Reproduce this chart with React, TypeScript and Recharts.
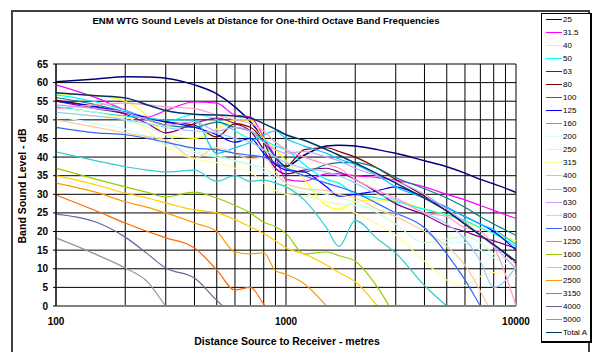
import React from "react";
import { CartesianGrid, Line, LineChart, XAxis, YAxis } from "recharts";

const distances = [100, 150, 200, 250, 300, 400, 500, 600, 700, 800, 900, 1000, 1200, 1500, 1700, 2000, 2500, 3000, 4000, 5000, 6000, 7000, 8000, 10000];

const xTicks = [100, 200, 300, 400, 500, 600, 700, 800, 900, 1000, 2000, 3000, 4000, 5000, 6000, 7000, 8000, 9000, 10000];
const yTicks = [0, 5, 10, 15, 20, 25, 30, 35, 40, 45, 50, 55, 60, 65];

const f25 = [60.2, 61, 61.6, 61.5, 61.2, 59.4, 57, 53.5, 49.5, 45, 40, 37.5, 40.5, 43, 43.2, 43, 42, 41, 39, 37.4, 35.7, 34, 32.8, 30.5];
const f31 = [59.4, 55.9, 52.6, 50.8, 52.5, 54.8, 54.5, 51.3, 50.8, 45.4, 40, 34, 33.5, 35.5, 35.5, 35, 34.5, 33.8, 32, 30, 28.5, 27, 25.7, 23.5];
const f40 = [57, 56.5, 55, 51, 46, 45, 47.5, 50, 50, 45, 42, 39, 34, 27, 26, 28, 28.5, 28.3, 26, 24.5, 22.5, 21, 19.5, 17.5];
const f50 = [56.7, 54.8, 52.5, 50.5, 49.5, 51.5, 50, 47, 45, 44.5, 43, 42, 38, 34, 33, 30, 29, 28, 26, 24.5, 23, 21, 19.5, 16];
const f63 = [55, 53, 51.5, 49, 46.5, 49, 50.5, 49, 47, 42, 37, 35.5, 36.5, 37, 36, 34, 30.5, 27.5, 24.5, 21.5, 20, 18.5, 17.5, 15.5];
const f80 = [55.3, 53.5, 51.8, 50.5, 49.4, 48.6, 45.4, 49, 48, 44, 38, 37.5, 42, 42.5, 41.5, 40, 37, 34, 29.5, 25.5, 22, 19, 16.5, 11.5];
const f100 = [56, 54, 52, 50, 48.6, 48, 49.4, 48, 47, 44, 40, 37, 36, 38, 38.5, 38.5, 37, 34.5, 31.5, 29, 26.5, 24, 22, 19];
const f125 = [55, 53.5, 52, 50.5, 49.5, 48, 46, 44, 45, 41, 38, 36.5, 36, 32, 29.5, 30, 31, 32, 29, 26.5, 24, 22, 20, 15];
const f160 = [53.5, 52, 51, 50.5, 50, 50, 41, 42.5, 44, 46, 47, 45, 43, 41, 39.5, 38, 35, 32, 29, 26.5, 24, 22, 20.5, 16.5];
const f200 = [51, 49, 47.5, 45.5, 43.5, 41, 40, 39, 38, 36, 34, 32, 30.5, 28, 27.5, 27, 26, 25, 21, 17, 17, 15, 13, 10];
const f250 = [53, 52, 50, 48, 46, 41.5, 40.5, 39, 38, 37, 35, 33, 31.5, 30, 29, 28, 25, 22, 17, 18, 18.5, 17, 14, 12];
const f315 = [52, 51, 50.8, 47, 43, 39.5, 38.5, 37, 36, 33, 31, 30, 29.5, 28, 27, 25, 22, 19, 12, 7, 5.5, 8, 9, 8];
const f400 = [52, 51, 50, 49, 48, 47, 46.5, 45, 44, 42, 40, 38.5, 37, 36, 35, 33, 30, 28.5, 25, 22, 18, 12, 5, 10.5];
const f500 = [53, 54, 54.5, 54, 53.5, 53, 51.3, 50, 49, 47, 44, 42, 40, 38, 37, 34, 31, 29, 25, 24, 21, 20, 16, 0];
const f630 = [54, 53, 52, 50, 48.5, 49.5, 47, 48, 47, 44, 42, 41, 41.5, 40, 39, 37, 35, 33.5, 30, 26, 22.5, 19, 16, 10];
const f800 = [50, 48, 46.5, 45.5, 44.6, 39.7, 42.5, 41, 39.5, 40, 36, 33, 31.5, 31, 30, 29, 26, 24, 20, 16, 11, 4, -3, null];
const f1000 = [48, 46.5, 46, 45, 44, 42.4, 42, 41, 40.5, 40, 38.5, 37, 35, 33, 32, 30.5, 27.5, 25, 21, 14, 7, 0, -6, null];
const f1250 = [41.4, 39, 37.4, 36.5, 36, 36.5, 33.5, 35, 33.5, 33.8, 33, 32, 28.5, 21, 16, 23, 18, 14.2, 5.5, 0, -4, null, null, null];
const f1600 = [37, 34, 32, 30.5, 29.3, 30.6, 29, 27, 25, 22.5, 21.3, 19.5, 14, 14.5, 13.5, 12, 5, -3, null, null, null, null, null, null];
const f2000 = [35, 32.5, 30.3, 29, 27.7, 25.8, 25, 23.2, 21.2, 19.5, 17.5, 15.6, 14, 11, 9, 6.5, 0, -6, null, null, null, null, null, null];
const f2500 = [33, 30.5, 28, 26.5, 25, 22.3, 20, 14.5, 14, 14.3, 9.5, 8.5, 6, 0, -4, null, null, null, null, null, null, null, null, null];
const f3150 = [29.8, 25.5, 22.3, 20, 18.3, 15.6, 9.7, 4.3, 5, 0.5, -4, null, null, null, null, null, null, null, null, null, null, null, null, null];
const f4000 = [24.7, 22.5, 18.5, 14, 10.2, 7.5, 1.5, -3, null, null, null, null, null, null, null, null, null, null, null, null, null, null, null, null];
const f5000 = [18.3, 13.8, 10.2, 6.5, 0, -8, null, null, null, null, null, null, null, null, null, null, null, null, null, null, null, null, null, null];
const totalA = [57.3, 56.5, 55.9, 54, 52.5, 51.5, 51.3, 51, 50.5, 49, 47.5, 46, 44.5, 42, 40.5, 38.4, 35.5, 33, 29, 25.5, 22, 19, 16.5, 12];

const series = [
  { key: "25", values: f25, color: "#000080" },
  { key: "31.5", values: f31, color: "#FF00FF" },
  { key: "40", values: f40, color: "#FFFF00" },
  { key: "50", values: f50, color: "#00FFFF" },
  { key: "63", values: f63, color: "#800080" },
  { key: "80", values: f80, color: "#800000" },
  { key: "100", values: f100, color: "#008080" },
  { key: "125", values: f125, color: "#0000FF" },
  { key: "160", values: f160, color: "#00CCFF" },
  { key: "200", values: f200, color: "#CCFFFF" },
  { key: "250", values: f250, color: "#CCFFCC" },
  { key: "315", values: f315, color: "#FFFF99" },
  { key: "400", values: f400, color: "#99CCFF" },
  { key: "500", values: f500, color: "#FF99CC" },
  { key: "630", values: f630, color: "#CC99FF" },
  { key: "800", values: f800, color: "#FFCC99" },
  { key: "1000", values: f1000, color: "#3366FF" },
  { key: "1250", values: f1250, color: "#33CCCC" },
  { key: "1600", values: f1600, color: "#99CC00" },
  { key: "2000", values: f2000, color: "#FFCC00" },
  { key: "2500", values: f2500, color: "#FF9900" },
  { key: "3150", values: f3150, color: "#FF6600" },
  { key: "4000", values: f4000, color: "#666699" },
  { key: "5000", values: f5000, color: "#969696" },
  { key: "Total A", values: totalA, color: "#003366" },
];

const rows = distances.map((d, i) => {
  const row: Record<string, number | null> = { d };
  series.forEach((s) => {
    row[s.key] = s.values[i];
  });
  return row;
});

const font = "'Liberation Sans', Arial, sans-serif";
const tickStyle = { fill: "#000", fontSize: 10, fontWeight: 700, fontFamily: font };

export default function App() {
  return (
    <div style={{ position: "absolute", left: 0, top: 0, width: 599, height: 352, background: "#fff", overflow: "hidden", fontFamily: font }}>
      <div style={{ position: "absolute", left: 11, top: 10, width: 579, height: 360, border: "2px solid #404040", boxSizing: "border-box" }} />
      <div style={{ position: "absolute", left: 0, width: 532, top: 15, textAlign: "center", fontSize: 9.6, fontWeight: 700 }}>
        ENM WTG Sound Levels at Distance for One-third Octave Band Frequencies
      </div>
      <div style={{ position: "absolute", left: 22, top: 186, transform: "translate(-50%, -50%) rotate(-90deg)", whiteSpace: "nowrap", fontSize: 10.5, fontWeight: 700 }}>
        Band Sound Level - dB
      </div>
      <div style={{ position: "absolute", left: 287, top: 341, transform: "translate(-50%, -50%)", whiteSpace: "nowrap", fontSize: 10.5, fontWeight: 700 }}>
        Distance Source to Receiver - metres
      </div>
      <div style={{ position: "absolute", left: 0, top: 0 }}>
        <LineChart width={599} height={352} data={rows} margin={{ top: 64, right: 83, bottom: 16, left: 0 }}>
          <CartesianGrid stroke="#000" strokeWidth={1} />
          <XAxis
            dataKey="d"
            type="number"
            scale="log"
            domain={[100, 10000]}
            ticks={xTicks}
            interval={0}
            tickFormatter={(v: number) => (v === 100 || v === 1000 || v === 10000 ? String(v) : "")}
            tick={tickStyle}
            tickLine={false}
            tickSize={5}
            tickMargin={7}
            height={30}
            axisLine={{ stroke: "#808080", strokeWidth: 2 }}
          />
          <YAxis
            type="number"
            domain={[0, 65]}
            ticks={yTicks}
            interval={0}
            allowDataOverflow
            tick={tickStyle}
            tickSize={3}
            tickMargin={5}
            tickLine={{ stroke: "#000" }}
            width={56}
            axisLine={{ stroke: "#000" }}
          />
          {series.map((s) => (
            <Line
              key={s.key}
              dataKey={s.key}
              type="monotone"
              stroke={s.color}
              strokeWidth={s.key === "Total A" || s.key === "25" ? 1.5 : 1.2}
              dot={false}
              connectNulls
              isAnimationActive={false}
            />
          ))}
        </LineChart>
      </div>
      <div style={{ position: "absolute", left: 541, top: 13, width: 51, height: 330, border: "1px solid #000", borderRightWidth: 2, borderBottomWidth: 2, boxSizing: "border-box", background: "#fff" }}>
        {series.map((s, i) => (
          <div key={s.key} style={{ position: "absolute", left: 4, top: 5 + i * 13.08 - 5, height: 10, display: "flex", alignItems: "center" }}>
            <div style={{ width: 16, height: 0, borderTop: `1.5px solid ${s.color}` }} />
            <span style={{ fontSize: 8, marginLeft: 1, color: "#000", whiteSpace: "nowrap" }}>{s.key}</span>
          </div>
        ))}
      </div>
    </div>
  );
}
